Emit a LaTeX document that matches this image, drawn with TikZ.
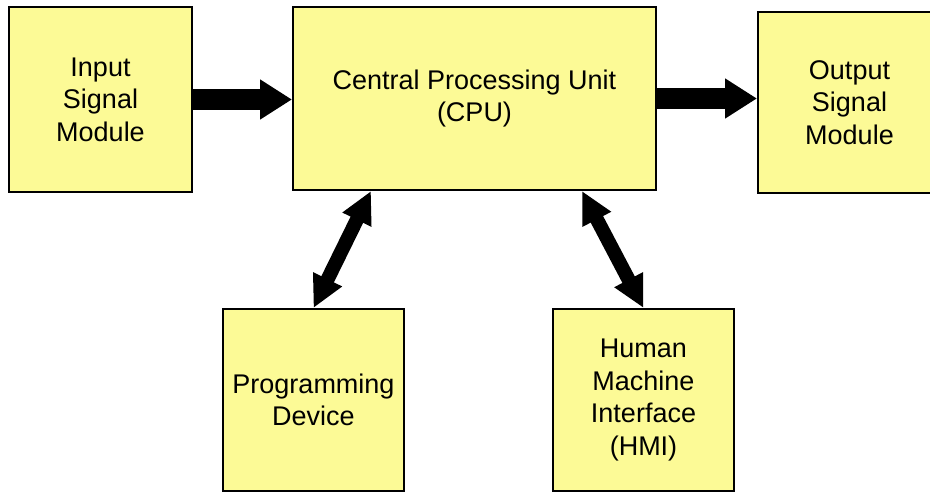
\documentclass[tikz,border=0pt]{standalone}
\usepackage{fontspec}
\setmainfont{Liberation Sans}
\usetikzlibrary{arrows.meta,calc}
\definecolor{boxfill}{RGB}{252,250,150}
\newcommand{\lft}{\hspace*{-42pt}}
\begin{document}
\begin{tikzpicture}[x=1pt,y=-1pt,
  block/.style={draw=black,line width=2pt,fill=boxfill,align=center,inner sep=0pt,
    font=\fontsize{27}{32.5}\selectfont},
  bigarrow/.style={line width=21pt,line cap=butt,-{Triangle[length=32pt,width=38pt]}},
  dblarrow/.style={line width=14pt,line cap=butt,{Triangle[length=32pt,width=30pt]}-{Triangle[length=32pt,width=30pt]}}]
\useasboundingbox (0,0) rectangle (930,492);
\fill[white] (0,0) rectangle (930,492);
\node[block,minimum width=183pt,minimum height=185pt] (in) at (100.5,99.5) {Input\\Signal\\Module};
\node[block,minimum width=363pt,minimum height=183pt] (cpu) at (474.5,98.5) {Central Processing Unit\\(CPU)};
\node[block,minimum width=225pt,minimum height=181pt] (out) at (870.5,102.5) {\lft Output\\\lft Signal\\\lft Module};
\node[block,minimum width=181pt,minimum height=182pt] (prog) at (313.5,400) {Programming\\Device};
\node[block,minimum width=181pt,minimum height=182pt] (hmi) at (643.5,400) {Human\\Machine\\Interface\\(HMI)};
\draw[bigarrow] (in.east) -- (in.east -| cpu.west);
\draw[bigarrow] (cpu.east) -- (cpu.east -| out.west);
\draw[dblarrow] ($(cpu.south west)+(79,0)$) -- (prog.north);
\draw[dblarrow] ($(cpu.south west)+(290,0)$) -- (hmi.north);
\end{tikzpicture}
\end{document}
